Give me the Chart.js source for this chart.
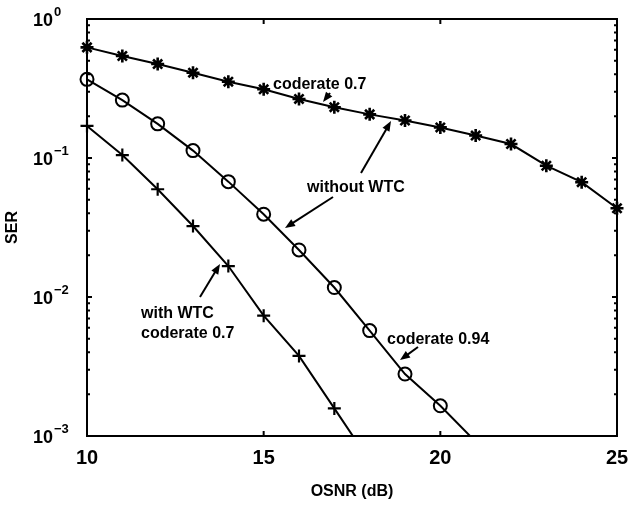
<!DOCTYPE html>
<html>
<head>
<meta charset="utf-8">
<script src="https://cdn.jsdelivr.net/npm/chart.js@4/dist/chart.umd.min.js"></script>
<style>
  html, body { margin: 0; padding: 0; background: #fff; }
  canvas { display: block; }
</style>
</head>
<body>
<canvas id="serChart" width="629" height="505"></canvas>
<script>
// données
const starOsnr = [10, 11, 12, 13, 14, 15, 16, 17, 18, 19, 20, 21, 22, 23, 24, 25]
const starSer = [0.625, 0.542, 0.474, 0.411, 0.354, 0.312, 0.266, 0.232, 0.206, 0.186, 0.166, 0.145, 0.126, 0.088, 0.067, 0.0435]

const circleOsnr = [10, 11, 12, 13, 14, 15, 16, 17, 18, 19, 20, 21]
const circleSer = [0.368, 0.261, 0.176, 0.113, 0.0676, 0.0394, 0.0218, 0.0117, 0.00573, 0.00279, 0.00165, 0.00091]

const plusOsnr = [10, 11, 12, 13, 14, 15, 16, 17, 18]
const plusSer = [0.170, 0.105, 0.0596, 0.0324, 0.0167, 0.00734, 0.00377, 0.00158, 0.00066]

const xTicks = [10, 15, 20, 25]
const yTicks = [1, 0.1, 0.01, 0.001]
const yExponents = ['0', '\u22121', '\u22122', '\u22123']

const toPoints = (xs, ys) => xs.map((x, i) => ({ x: x, y: ys[i] }))

// pas de marqueur sur le point hors cadre
const radii = (xs, lastVisible, r) => xs.map(x => x <= lastVisible ? r : 0)

const makeDataset = (xs, ys, style, lastVisible, r, pw) => ({
    data: toPoints(xs, ys),
    borderColor: '#000',
    borderWidth: 2,
    pointStyle: style,
    pointRadius: radii(xs, lastVisible, r),
    pointHoverRadius: 0,
    pointBorderColor: '#000',
    pointBorderWidth: pw,
    pointBackgroundColor: 'rgba(0,0,0,0)',
    tension: 0,
    clip: { left: 12, right: 12, top: 12, bottom: 0 }
})

const drawArrow = (ctx, x1, y1, x2, y2) => {
    const ang = Math.atan2(y2 - y1, x2 - x1)
    const len = 10, half = 4
    ctx.beginPath()
    ctx.moveTo(x1, y1)
    ctx.lineTo(x2 - Math.cos(ang) * len * 0.8, y2 - Math.sin(ang) * len * 0.8)
    ctx.lineWidth = 2
    ctx.stroke()
    ctx.beginPath()
    ctx.moveTo(x2, y2)
    ctx.lineTo(x2 - Math.cos(ang) * len - Math.sin(ang) * half, y2 - Math.sin(ang) * len + Math.cos(ang) * half)
    ctx.lineTo(x2 - Math.cos(ang) * len + Math.sin(ang) * half, y2 - Math.sin(ang) * len - Math.cos(ang) * half)
    ctx.closePath()
    ctx.fill()
}

const frameAndLabels = {
    id: 'frameAndLabels',
    afterDraw(chart) {
        const ctx = chart.ctx
        const area = chart.chartArea
        const xs = chart.scales.x
        const ys = chart.scales.y
        ctx.save()
        ctx.strokeStyle = '#000'
        ctx.fillStyle = '#000'

        // cadre
        ctx.lineWidth = 2
        ctx.strokeRect(area.left, area.top, area.right - area.left, area.bottom - area.top)

        // graduations x
        xTicks.forEach(v => {
            const px = xs.getPixelForValue(v)
            ctx.beginPath()
            ctx.moveTo(px, area.bottom)
            ctx.lineTo(px, area.bottom - 5)
            ctx.moveTo(px, area.top)
            ctx.lineTo(px, area.top + 5)
            ctx.stroke()
        })

        // graduations y (majeures + mineures)
        for (let e = -3; e < 0; e++) {
            for (let m = 1; m < 10; m++) {
                const py = ys.getPixelForValue(m * Math.pow(10, e))
                const len = m === 1 ? 5 : 3
                ctx.beginPath()
                ctx.moveTo(area.left, py)
                ctx.lineTo(area.left + len, py)
                ctx.moveTo(area.right, py)
                ctx.lineTo(area.right - len, py)
                ctx.stroke()
            }
        }

        // étiquettes x
        ctx.font = 'bold 20px "Liberation Sans", Arial, sans-serif'
        ctx.textAlign = 'center'
        ctx.textBaseline = 'middle'
        xTicks.forEach(v => {
            ctx.fillText(String(v), xs.getPixelForValue(v), area.bottom + 22)
        })

        // étiquettes y en puissances de 10
        yTicks.forEach((v, i) => {
            const py = ys.getPixelForValue(v)
            ctx.font = 'bold 18px "Liberation Sans", Arial, sans-serif'
            ctx.textAlign = 'right'
            ctx.fillText('10', 53, py + 2)
            ctx.font = 'bold 13px "Liberation Sans", Arial, sans-serif'
            ctx.textAlign = 'left'
            ctx.fillText(yExponents[i], 54, py - 7)
        })

        // titres des axes
        ctx.font = 'bold 16px "Liberation Sans", Arial, sans-serif'
        ctx.textAlign = 'center'
        ctx.fillText('OSNR (dB)', (area.left + area.right) / 2, 492)
        ctx.save()
        ctx.translate(13, (area.top + area.bottom) / 2)
        ctx.rotate(-Math.PI / 2)
        ctx.fillText('SER', 0, 0)
        ctx.restore()

        // annotations
        ctx.textAlign = 'left'
        ctx.fillText('coderate 0.7', 273, 85)
        ctx.fillText('without WTC', 307, 188)
        ctx.fillText('with WTC', 141, 314)
        ctx.fillText('coderate 0.7', 141, 334)
        ctx.fillText('coderate 0.94', 387, 340)

        drawArrow(ctx, 330, 93, 323, 102)
        drawArrow(ctx, 361, 173, 391, 121)
        drawArrow(ctx, 333, 197, 285, 228)
        drawArrow(ctx, 200, 297, 220, 264)
        drawArrow(ctx, 418, 347, 400, 360)

        ctx.restore()
    }
}

const ctx = document.getElementById('serChart').getContext('2d')
const serChart = new Chart(ctx, {
    type: 'line',
    data: {
        datasets: [
            makeDataset(starOsnr, starSer, 'star', 25, 6.5, 2.6),
            makeDataset(circleOsnr, circleSer, 'circle', 20, 6.5, 2),
            makeDataset(plusOsnr, plusSer, 'cross', 17, 6.5, 2.2)
        ]
    },
    options: {
        responsive: false,
        maintainAspectRatio: false,
        animation: false,
        devicePixelRatio: 1,
        layout: {
            padding: { left: 87, right: 12, top: 19, bottom: 69 }
        },
        scales: {
            x: { type: 'linear', min: 10, max: 25, display: false },
            y: { type: 'logarithmic', min: 0.001, max: 1, display: false }
        },
        plugins: {
            legend: { display: false },
            tooltip: { enabled: false }
        }
    },
    plugins: [frameAndLabels]
})
</script>
</body>
</html>
